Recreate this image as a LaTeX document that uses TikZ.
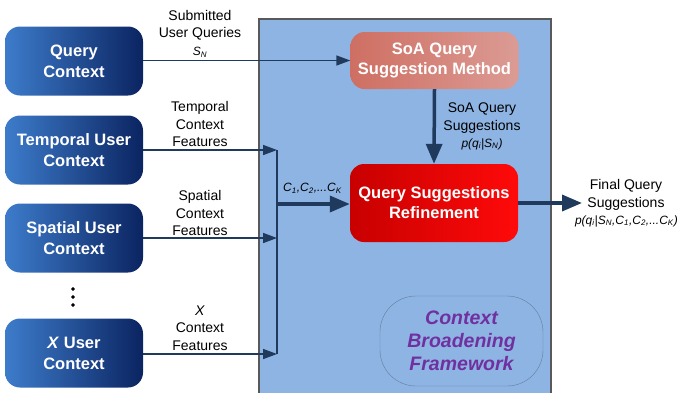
\documentclass[tikz,border=0pt]{standalone}
\usepackage{fontspec}
\setmainfont{Liberation Sans}
\usetikzlibrary{arrows.meta}

\definecolor{navy}{HTML}{1F3A5C}
\definecolor{frameblue}{HTML}{8EB4E3}
\definecolor{ctxleft}{HTML}{3D7CCB}
\definecolor{ctxright}{HTML}{0B2461}
\definecolor{soaleft}{HTML}{CF6F63}
\definecolor{soaright}{HTML}{DB9B94}
\definecolor{refleft}{HTML}{C80000}
\definecolor{refright}{HTML}{FF0A0A}
\definecolor{cbfpurple}{HTML}{7030A0}

\tikzset{
  ctxbox/.style={rounded corners=15pt, left color=ctxleft, right color=ctxright,
    text=white, align=center, minimum width=138pt, minimum height=69pt,
    font=\fontsize{16.5}{21}\selectfont\bfseries},
  methbox/.style={rounded corners=14pt, text=white, align=center,
    minimum width=168pt, font=\fontsize{16.5}{20}\selectfont\bfseries},
  lbl/.style={align=center, font=\fontsize{14}{17.5}\selectfont, inner sep=0pt},
  mathlbl/.style={font=\fontsize{12}{17.5}\selectfont\itshape, inner sep=0pt},
  thin arrow/.style={draw=navy, line width=1.5pt, -{Triangle[length=14pt,width=10pt]}},
  thick arrow/.style={draw=navy, line width=3.5pt, -{Triangle[length=20pt,width=16pt]}}
}

\begin{document}
\begin{tikzpicture}[x=1pt, y=-1pt]
 \useasboundingbox (0,0) rectangle (679,392);

 % framework background
 \node[draw=black!65, line width=1.5pt, fill=frameblue, anchor=north west,
   minimum width=292pt, minimum height=380pt, inner sep=0pt] (frame) at (258,18) {};

 % context sources
 \node[ctxbox] (query) at (74,61) {Query\\Context};
 \node[ctxbox] (temporal) at (74,150) {Temporal User\\Context};
 \node[ctxbox] (spatial) at (74,238) {Spatial User\\Context};
 \node[ctxbox] (xuser) at (74,353) {\textit{X} User\\Context};

 \filldraw[black]
   (73,289) circle (1.6pt)
   (73,297) circle (1.6pt)
   (73,305) circle (1.6pt);

 % methods
 \node[methbox, left color=soaleft, right color=soaright, minimum height=57pt]
   (soa) at (434.5,60.5) {SoA Query\\Suggestion Method};
 \node[methbox, left color=refleft, right color=refright, minimum height=78pt]
   (refine) at (434,203) {Query Suggestions\\Refinement};

 % bus
 \coordinate (busT) at (277,150);
 \coordinate (busS) at (277,238);
 \coordinate (busX) at (277,354);
 \coordinate (busM) at (277,204);
 \coordinate (final) at (582,203);

 \draw[navy, line width=2pt] (busT) -- (busX);
 \draw[thin arrow] (query.east |- soa.west) -- (soa.west);
 \draw[thin arrow] (temporal.east) -- (busT);
 \draw[thin arrow] (spatial.east) -- (busS);
 \draw[thin arrow] (xuser.east |- busX) -- (busX);
 \draw[thick arrow] (busM) -- (refine.west |- busM);
 \draw[thick arrow] (soa.south) -- (refine.north);
 \draw[thick arrow] (refine.east) -- (final);

 % labels
 \node[lbl] (lsub) at (200,25) {Submitted\\User Queries};
 \node[mathlbl] (lsubs) at (200,52) {S\textsubscript{N}};
 \node[lbl] (ltemp) at (200,124) {Temporal\\Context\\Features};
 \node[lbl] (lspat) at (200,213) {Spatial\\Context\\Features};
 \node[lbl] (lx) at (200,328) {\textit{X}\\Context\\Features};
 \node[lbl] (lsoa) at (482,118) {SoA Query\\Suggestions};
 \node[mathlbl] (lsoap) at (482,144) {p(q\textsubscript{i}|S\textsubscript{N})};
 \node[mathlbl, anchor=west] (lc) at (283,188) {C\textsubscript{1},C\textsubscript{2},...C\textsubscript{K}};
 \node[lbl] (lfin) at (626,195) {Final Query\\Suggestions};
 \node[mathlbl, anchor=east] (lfinp) at (678,221)
   {p(q\textsubscript{i}|S\textsubscript{N},C\textsubscript{1},C\textsubscript{2},...C\textsubscript{K})};

 % framework caption
 \node[draw=black!30!frameblue, rounded corners=36pt, minimum width=163pt,
   minimum height=90pt, text=cbfpurple, align=center,
   font=\fontsize{19.5}{23}\selectfont\bfseries\itshape] (cbf) at (461.5,341)
   {Context\\Broadening\\Framework};
\end{tikzpicture}
\end{document}
